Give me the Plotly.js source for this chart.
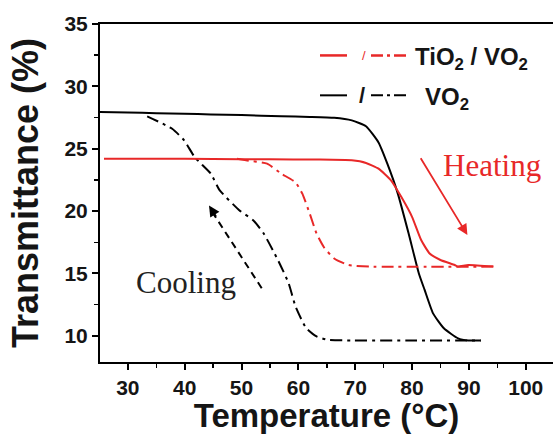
<!DOCTYPE html>
<html>
<head>
<meta charset="utf-8">
<script src="https://cdn.plot.ly/plotly-3.0.1.min.js"></script>
<style>html,body{margin:0;padding:0;background:#fff;overflow:hidden}#chart{width:553px;height:434px}</style>
</head>
<body>
<div id="chart"></div>
<script>
// ---- Data ----
const tempVO2Heat  = [25, 30, 35, 40, 44.6, 50, 57, 62, 66.3, 69.4, 71.9, 74.1, 75.65, 77.5, 79.4, 81.2, 82.2, 83.7, 85.6, 88.1, 89.9, 92.1];
const transVO2Heat = [27.95, 27.9, 27.85, 27.8, 27.75, 27.7, 27.6, 27.55, 27.48, 27.27, 26.8, 25.5, 23.8, 21.4, 18.2, 15.0, 13.7, 11.8, 10.6, 9.8, 9.63, 9.63];

const tempVO2Cool  = [33.4, 37.8, 39.9, 41.8, 44.6, 46.1, 49.6, 52.05, 53.9, 56.4, 58.3, 59.5, 61.4, 63.2, 65.1, 69.4, 80, 92.1];
const transVO2Cool = [27.6, 26.6, 25.67, 24.3, 23.0, 21.7, 20.07, 19.27, 18.2, 16.08, 14.2, 12.35, 10.6, 9.95, 9.68, 9.63, 9.63, 9.63];

const tempTiHeat  = [25.8, 35, 45, 55, 63.2, 69.4, 71.9, 74.1, 76.3, 78.1, 80, 81.6, 83.1, 85, 87.5, 88.1, 89.9, 94.3];
const transTiHeat = [24.2, 24.2, 24.18, 24.15, 24.13, 24.07, 23.86, 23.4, 22.47, 21.14, 19.54, 17.68, 16.6, 16.08, 15.68, 15.55, 15.68, 15.55];

const tempTiCool  = [49.2, 50.8, 54.5, 57, 59.5, 60.7, 62, 63.2, 64.5, 66.3, 68.8, 72.5, 94.3];
const transTiCool = [24.2, 24.07, 23.8, 23.0, 22.3, 21.4, 19.8, 18.2, 17.1, 16.2, 15.68, 15.55, 15.55];

const xTickVals = [30, 40, 50, 60, 70, 80, 90, 100];
const yTickVals = [10, 15, 20, 25, 30, 35];

// ---- Style ----
const RED = 'rgb(232,40,40)';
const BLACK = '#000';
const DASHDOT = '12px,5px,3px,5px';
const W = 553, H = 434;
const M = {l: 100, r: 0, t: 23.5, b: 71.7};
const pw = W - M.l - M.r, ph = H - M.t - M.b;
const px = p => (p - M.l) / pw;
const py = p => (H - M.b - p) / ph;
const SANS = 'Liberation Sans, Arial, sans-serif';
const SERIF = 'Liberation Serif, Times New Roman, serif';

const traces = [
  {x: tempVO2Heat, y: transVO2Heat, name: 'VO2 heating', mode: 'lines',
   line: {color: BLACK, width: 2, shape: 'spline', smoothing: 0.5}},
  {x: tempVO2Cool, y: transVO2Cool, name: 'VO2 cooling', mode: 'lines',
   line: {color: BLACK, width: 2, dash: DASHDOT, shape: 'spline', smoothing: 0.5}},
  {x: tempTiHeat, y: transTiHeat, name: 'TiO2/VO2 heating', mode: 'lines',
   line: {color: RED, width: 2, shape: 'spline', smoothing: 0.5}},
  {x: tempTiCool, y: transTiCool, name: 'TiO2/VO2 cooling', mode: 'lines',
   line: {color: RED, width: 2, dash: DASHDOT, shape: 'spline', smoothing: 0.5}}
];

const tickFont = {family: SANS, size: 21, color: '#151515'};

const layout = {
  width: W, height: H,
  margin: M,
  paper_bgcolor: '#fff', plot_bgcolor: '#fff',
  showlegend: false,
  xaxis: {
    range: [25.1, 104.8], tickvals: xTickVals, ticktext: xTickVals.map(v => '<b>' + v + '</b>'),
    showgrid: false, zeroline: false,
    showline: true, linecolor: '#000', linewidth: 2, mirror: true,
    ticks: 'outside', ticklen: 6, tickwidth: 2, tickcolor: '#000',
    minor: {dtick: 5, tick0: 25, ticks: 'outside', ticklen: 4, tickwidth: 1.5, tickcolor: '#000', showgrid: false},
    tickfont: tickFont,
    title: {text: '<b>Temperature (°C)</b>', font: {family: SANS, size: 33, color: '#151515'}, standoff: 6}
  },
  yaxis: {
    range: [7.9, 35], tickvals: yTickVals, ticktext: yTickVals.map(v => '<b>' + v + '</b>'),
    showgrid: false, zeroline: false,
    showline: true, linecolor: '#000', linewidth: 2,
    ticks: 'outside', ticklen: 6, tickwidth: 2, tickcolor: '#000',
    minor: {dtick: 2.5, tick0: 7.5, ticks: 'outside', ticklen: 4, tickwidth: 1.5, tickcolor: '#000', showgrid: false},
    tickfont: tickFont,
    title: {text: '<b>Transmittance (%)</b>', font: {family: SANS, size: 36, color: '#151515'}, standoff: 15}
  },
  shapes: [
    // legend samples
    {type: 'line', xref: 'paper', yref: 'paper', x0: px(320), x1: px(347), y0: py(55), y1: py(55), line: {color: RED, width: 2.5}},
    {type: 'line', xref: 'paper', yref: 'paper', x0: px(371), x1: px(410), y0: py(55), y1: py(55), line: {color: RED, width: 2.5, dash: '12px,4px,3px,4px'}},
    {type: 'line', xref: 'paper', yref: 'paper', x0: px(320), x1: px(347), y0: py(95), y1: py(95), line: {color: BLACK, width: 2}},
    {type: 'line', xref: 'paper', yref: 'paper', x0: px(371), x1: px(410), y0: py(95), y1: py(95), line: {color: BLACK, width: 2, dash: '12px,4px,3px,4px'}},
    // cooling dashed arrow shaft
    {type: 'line', xref: 'paper', yref: 'paper', x0: px(261.7), y0: py(288.3), x1: px(211), y1: py(210), line: {color: BLACK, width: 2, dash: '7px,5px'}}
  ],
  annotations: [
    {xref: 'paper', yref: 'paper', x: px(360), y: py(55), xanchor: 'left', yanchor: 'middle', showarrow: false,
     text: '/', font: {family: SANS, size: 13, color: RED}},
    {xref: 'paper', yref: 'paper', x: px(413), y: py(58), xanchor: 'left', yanchor: 'middle', showarrow: false,
     text: '<b>TiO<sub>2</sub> / VO<sub>2</sub></b>', font: {family: SANS, size: 24, color: '#151515'}},
    {xref: 'paper', yref: 'paper', x: px(357), y: py(95), xanchor: 'left', yanchor: 'middle', showarrow: false,
     text: '<b>/</b>', font: {family: SANS, size: 22, color: '#151515'}},
    {xref: 'paper', yref: 'paper', x: px(423), y: py(98), xanchor: 'left', yanchor: 'middle', showarrow: false,
     text: '<b>VO<sub>2</sub></b>', font: {family: SANS, size: 24, color: '#151515'}},
    {xref: 'paper', yref: 'paper', x: px(441), y: py(165), xanchor: 'left', yanchor: 'middle', showarrow: false,
     text: 'Heating', font: {family: SERIF, size: 31, color: RED}},
    {xref: 'paper', yref: 'paper', x: px(134), y: py(283), xanchor: 'left', yanchor: 'middle', showarrow: false,
     text: 'Cooling', font: {family: SERIF, size: 31, color: '#222'}},
    // heating arrow
    {xref: 'paper', yref: 'paper', x: px(467.4), y: py(235), ax: 419.8 - 467.4, ay: 156.7 - 235, axref: 'pixel', ayref: 'pixel',
     showarrow: true, arrowhead: 2, arrowsize: 1.2, arrowwidth: 1.8, arrowcolor: RED, text: ''},
    // cooling arrow head
    {xref: 'paper', yref: 'paper', x: px(209), y: py(205.5), ax: 8, ay: 12.5, axref: 'pixel', ayref: 'pixel',
     showarrow: true, arrowhead: 2, arrowsize: 1.2, arrowwidth: 1.8, arrowcolor: BLACK, text: ''}
  ]
};

Plotly.newPlot('chart', traces, layout, {staticPlot: true, displayModeBar: false});
</script>
</body>
</html>
